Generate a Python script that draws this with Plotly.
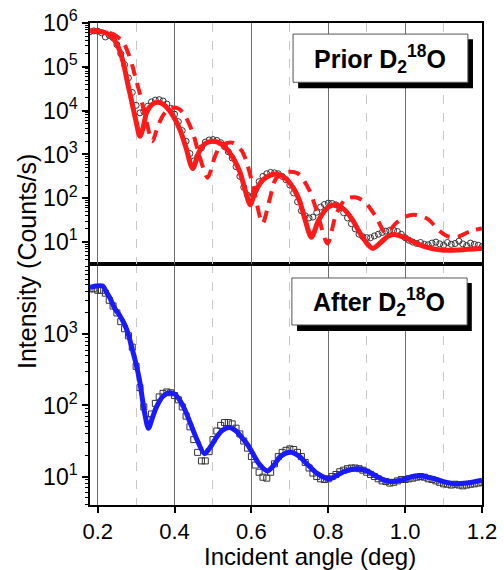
import plotly.graph_objects as go

# ---------------- data ----------------
angle_data = [0.18, 0.19, 0.20, 0.21, 0.22, 0.23, 0.24, 0.25, 0.26, 0.27,
              0.28, 0.29, 0.30, 0.31, 0.32, 0.33, 0.34, 0.35, 0.36, 0.37,
              0.38, 0.39, 0.40, 0.41, 0.42, 0.43, 0.44, 0.45, 0.46, 0.47,
              0.48, 0.49, 0.50, 0.51, 0.52, 0.53, 0.54, 0.55, 0.56, 0.57,
              0.58, 0.59, 0.60, 0.61, 0.62, 0.63, 0.64, 0.65, 0.66, 0.67,
              0.68, 0.69, 0.70, 0.71, 0.72, 0.73, 0.74, 0.75, 0.76, 0.77,
              0.78, 0.79, 0.80, 0.81, 0.82, 0.83, 0.84, 0.85, 0.86, 0.87,
              0.88, 0.89, 0.90, 0.91, 0.92, 0.93, 0.94, 0.95, 0.96, 0.97,
              0.98, 0.99, 1.00, 1.01, 1.02, 1.03, 1.04, 1.05, 1.06, 1.07,
              1.08, 1.09, 1.10, 1.11, 1.12, 1.13, 1.14, 1.15, 1.16, 1.17,
              1.18, 1.19, 1.20]

prior_data = [6.3e5, 6.6e5, 6.5e5, 6.0e5, 4.8e5, 5.2e5, 4.6e5, 3.2e5, 2.0e5, 1.12e5,
              5.6e4, 2.6e4, 1.32e4, 8.9e3, 9.5e3, 1.26e4, 1.58e4, 1.74e4, 1.78e4, 1.66e4,
              1.41e4, 1.12e4, 8.3e3, 5.6e3, 3.5e3, 2.0e3, 1050, 710, 890, 1410,
              1910, 2140, 2190, 2090, 1860, 1510, 1150, 830, 525, 316,
              178, 117, 107, 151, 240, 316, 363, 389, 380, 363,
              316, 263, 200, 132, 83, 52, 40, 35.5, 37.2, 47.9,
              63.1, 72.4, 77.6, 75.9, 70.8, 60.3, 46.8, 35.5, 26.3, 20.0,
              15.1, 13.2, 12.6, 12.6, 13.8, 15.1, 16.6, 17.8, 18.6, 18.6,
              17.4, 15.1, 12.6, 11.0, 10.0, 9.3, 9.8, 8.9, 8.7, 9.5,
              10.0, 9.1, 8.5, 9.8, 8.9, 9.3, 10.5, 9.1, 8.3, 9.5,
              8.9, 8.5, 7.9]

prior_fit_angle = [0.18, 0.20, 0.22, 0.235, 0.25, 0.265, 0.28, 0.29, 0.30, 0.31,
                   0.318, 0.327, 0.34, 0.355, 0.37, 0.385, 0.40, 0.415, 0.43, 0.447,
                   0.465, 0.48, 0.50, 0.52, 0.54, 0.555, 0.57, 0.585, 0.597, 0.61,
                   0.63, 0.65, 0.668, 0.69, 0.71, 0.725, 0.74, 0.756, 0.775, 0.80,
                   0.82, 0.845, 0.865, 0.88, 0.90, 0.915, 0.935, 0.955, 0.975, 1.00,
                   1.035, 1.07, 1.10, 1.14, 1.20]
prior_fit = [6.6e5, 6.6e5, 6.0e5, 5.0e5, 3.3e5, 1.41e5, 3.5e4, 1.41e4, 5.6e3, 2.6e3,
             4.0e3, 8.9e3, 1.35e4, 1.55e4, 1.41e4, 1.05e4, 6.6e3, 3.5e3, 1410, 479,
             1200, 1780, 2000, 1780, 1200, 760, 398, 141, 71, 141,
             263, 339, 355, 282, 166, 89, 31.6, 12.9, 31.6, 63,
             71, 52, 30.2, 17.4, 9.5, 7.2, 9.5, 13.5, 14.8, 12.6,
             8.9, 7.1, 6.5, 6.6, 7.2]

prior_model_angle = [0.18, 0.20, 0.22, 0.24, 0.265, 0.28, 0.291, 0.30, 0.31, 0.327,
                     0.342, 0.357, 0.372, 0.39, 0.41, 0.425, 0.447, 0.465, 0.486, 0.505,
                     0.52, 0.55, 0.575, 0.59, 0.605, 0.629, 0.647, 0.664, 0.69, 0.72,
                     0.75, 0.771, 0.798, 0.82, 0.845, 0.87, 0.895, 0.924, 0.95, 0.976,
                     1.00, 1.028, 1.06, 1.09, 1.114, 1.14, 1.17, 1.20]
prior_model = [6.6e5, 6.6e5, 6.3e5, 5.6e5, 3.8e5, 2.0e5, 1.0e5, 5.0e4, 2.4e4, 5.6e3,
               2.0e3, 4.5e3, 8.3e3, 1.15e4, 1.12e4, 8.3e3, 3.2e3, 912, 295, 891,
               1585, 1862, 1202, 562, 178, 26.9, 91, 282, 398, 372,
               158, 47.9, 9.3, 41.7, 95.5, 105, 83, 38, 15.8, 26.9,
               38, 41.7, 33.1, 17.8, 13.2, 13.5, 17.8, 20.4]

after_data = [4370, 4370, 4170, 4170, 3800, 3020, 2510, 2000, 1510, 1200,
              955, 661, 355, 178, 95.5, 63.1, 75.9, 107, 132, 148,
              155, 151, 138, 120, 95.5, 70.8, 50.1, 33.1, 21.9, 16.6,
              16.6, 22.4, 33.1, 43.7, 52.5, 57.5, 57.5, 55.0, 47.9, 39.8,
              31.6, 25.1, 19.1, 14.5, 11.5, 9.8, 9.5, 11.5, 15.1, 19.1,
              21.9, 23.4, 24.5, 24.0, 21.9, 19.1, 15.8, 13.2, 11.2, 10.0,
              9.3, 9.1, 9.3, 10.0, 10.7, 11.7, 12.3, 12.9, 13.2, 13.2,
              12.9, 12.3, 11.5, 10.7, 10.0, 9.3, 8.7, 8.5, 8.1, 8.3,
              8.7, 9.1, 9.1, 9.3, 9.5, 9.8, 10.0, 9.8, 9.3, 9.1,
              8.7, 8.3, 7.9, 7.8, 7.6, 7.8, 7.6, 7.4, 7.6, 7.8,
              7.9, 8.1, 8.3]

after_fit_angle = [0.18, 0.195, 0.213, 0.222, 0.231, 0.244, 0.257, 0.268, 0.278, 0.291,
                   0.30, 0.309, 0.322, 0.332, 0.342, 0.353, 0.37, 0.387, 0.40, 0.413,
                   0.426, 0.439, 0.46, 0.478, 0.495, 0.51, 0.525, 0.543, 0.56, 0.575,
                   0.59, 0.603, 0.62, 0.642, 0.66, 0.673, 0.69, 0.705, 0.725, 0.742,
                   0.77, 0.803, 0.82, 0.84, 0.86, 0.88, 0.90, 0.924, 0.945, 0.966,
                   0.99, 1.02, 1.044, 1.07, 1.10, 1.132, 1.16, 1.20]
after_fit = [4570, 4790, 4790, 3980, 3310, 2340, 1860, 1450, 1070, 589,
             380, 224, 79.4, 47.9, 66.1, 95.5, 135, 151, 145, 120,
             89.1, 60.3, 31.6, 20.9, 26.9, 36.3, 44.7, 49.0, 43.7, 35.5,
             28.2, 21.4, 15.1, 12.0, 14.8, 18.6, 21.4, 21.9, 19.1, 15.5,
             11.2, 9.3, 10.2, 11.7, 12.6, 12.9, 12.0, 10.2, 8.9, 8.5,
             8.9, 10.0, 10.2, 9.5, 8.5, 7.9, 8.1, 8.9]

x_tick_vals = [0.2, 0.4, 0.6, 0.8, 1.0, 1.2]
x_tick_text = ["0.2", "0.4", "0.6", "0.8", "1.0", "1.2"]
prior_y_tick_vals = [1e1, 1e2, 1e3, 1e4, 1e5, 1e6]
prior_y_tick_text = ["10<sup>1</sup>", "10<sup>2</sup>", "10<sup>3</sup>",
                     "10<sup>4</sup>", "10<sup>5</sup>", "10<sup>6</sup>"]
after_y_tick_vals = [1e1, 1e2, 1e3]
after_y_tick_text = ["10<sup>1</sup>", "10<sup>2</sup>", "10<sup>3</sup>"]

panel_labels = ["<b>Prior D<sub>2</sub><sup>18</sup>O</b>",
                "<b>After D<sub>2</sub><sup>18</sup>O</b>"]
x_title = "Incident angle (deg)"
y_title = "Intensity (Counts/s)"

# ---------------- figure ----------------
FONT = "Liberation Sans, Arial, sans-serif"
fig = go.Figure()

# Top panel (x2, y2)
fig.add_trace(go.Scatter(x=angle_data, y=prior_data, mode="markers",
                         marker=dict(symbol="circle-open", size=6, color="#333333",
                                     line=dict(width=1)),
                         xaxis="x2", yaxis="y2", showlegend=False))
fig.add_trace(go.Scatter(x=prior_model_angle, y=prior_model, mode="lines",
                         line=dict(color="#ff1a1a", width=4, dash="12px,8px",
                                   shape="spline", smoothing=0.8),
                         xaxis="x2", yaxis="y2", showlegend=False))
fig.add_trace(go.Scatter(x=prior_fit_angle, y=prior_fit, mode="lines",
                         line=dict(color="#ff1a1a", width=5, shape="spline", smoothing=0.8),
                         xaxis="x2", yaxis="y2", showlegend=False))

# Bottom panel (x, y)
fig.add_trace(go.Scatter(x=angle_data, y=after_data, mode="markers",
                         marker=dict(symbol="square-open", size=6, color="#333333",
                                     line=dict(width=1)),
                         xaxis="x", yaxis="y", showlegend=False))
fig.add_trace(go.Scatter(x=after_fit_angle, y=after_fit, mode="lines",
                         line=dict(color="#1a1aff", width=5, shape="spline", smoothing=0.8),
                         xaxis="x", yaxis="y", showlegend=False))

common_x = dict(range=[0.18, 1.2], showline=True, linecolor="black", linewidth=1.5,
                mirror=True, showgrid=True, gridcolor="#6e6e6e", gridwidth=1.2,
                zeroline=False, automargin=False,
                minor=dict(tickmode="linear", tick0=0.1, dtick=0.1, showgrid=True,
                           gridcolor="#c8c8c8", griddash="dash", gridwidth=1, ticks=""))

common_y = dict(type="log", tickmode="array", ticks="outside", ticklen=6, tickwidth=1.5,
                tickcolor="black", showline=True, linecolor="black", linewidth=1.5,
                mirror=True, showgrid=False, zeroline=False, automargin=False,
                tickfont=dict(size=23),
                minor=dict(dtick="D1", ticks="outside", ticklen=3, tickwidth=1,
                           tickcolor="black", showgrid=False))

fig.update_layout(
    width=504, height=570,
    margin=dict(l=90, r=22, t=23, b=65, autoexpand=False),
    paper_bgcolor="white", plot_bgcolor="white",
    font=dict(family=FONT, color="black", size=23),
    xaxis=dict(domain=[0, 1], anchor="y", tickmode="array", tickvals=x_tick_vals,
               ticktext=x_tick_text, ticks="outside", ticklen=6, tickwidth=1.5,
               tickcolor="black", tickfont=dict(size=22), **common_x),
    xaxis2=dict(domain=[0, 1], anchor="y2", matches="x", tickmode="array",
                tickvals=x_tick_vals, showticklabels=False, ticks="", **common_x),
    yaxis=dict(domain=[0, 0.5], anchor="x", range=[0.6, 3.99],
               tickvals=after_y_tick_vals, ticktext=after_y_tick_text, **common_y),
    yaxis2=dict(domain=[0.5, 1], anchor="x2", range=[0.5, 6],
                tickvals=prior_y_tick_vals, ticktext=prior_y_tick_text, **common_y),
)

# Label boxes with drop shadows
boxes = [
    dict(xr="x2 domain", yr="y2 domain", box=(0.518, 0.754, 0.964, 0.954),
         shadow=(0.531, 0.729, 0.977, 0.933), label=panel_labels[0], cy=0.852),
    dict(xr="x domain", yr="y domain", box=(0.515, 0.747, 0.962, 0.942),
         shadow=(0.528, 0.722, 0.974, 0.921), label=panel_labels[1], cy=0.842),
]
for b in boxes:
    sx0, sy0, sx1, sy1 = b["shadow"]
    fig.add_shape(type="rect", xref=b["xr"], yref=b["yr"], x0=sx0, y0=sy0, x1=sx1, y1=sy1,
                  fillcolor="black", line=dict(width=0), layer="above")
    bx0, by0, bx1, by1 = b["box"]
    fig.add_shape(type="rect", xref=b["xr"], yref=b["yr"], x0=bx0, y0=by0, x1=bx1, y1=by1,
                  fillcolor="white", line=dict(color="#555555", width=1), layer="above")
    fig.add_annotation(xref=b["xr"], yref=b["yr"], x=(bx0 + bx1) / 2, y=b["cy"],
                       text=b["label"], showarrow=False, xanchor="center", yanchor="middle",
                       font=dict(family=FONT, size=25, color="black"))

# Axis titles
fig.add_annotation(xref="paper", yref="paper", x=0.561, y=-0.106, text=x_title,
                   showarrow=False, xanchor="center", yanchor="middle",
                   font=dict(family=FONT, size=24, color="black"))
fig.add_annotation(xref="paper", yref="paper", x=-0.161, y=0.506, text=y_title,
                   showarrow=False, xanchor="center", yanchor="middle", textangle=-90,
                   font=dict(family=FONT, size=25, color="black"))

fig.write_html("out.html")
